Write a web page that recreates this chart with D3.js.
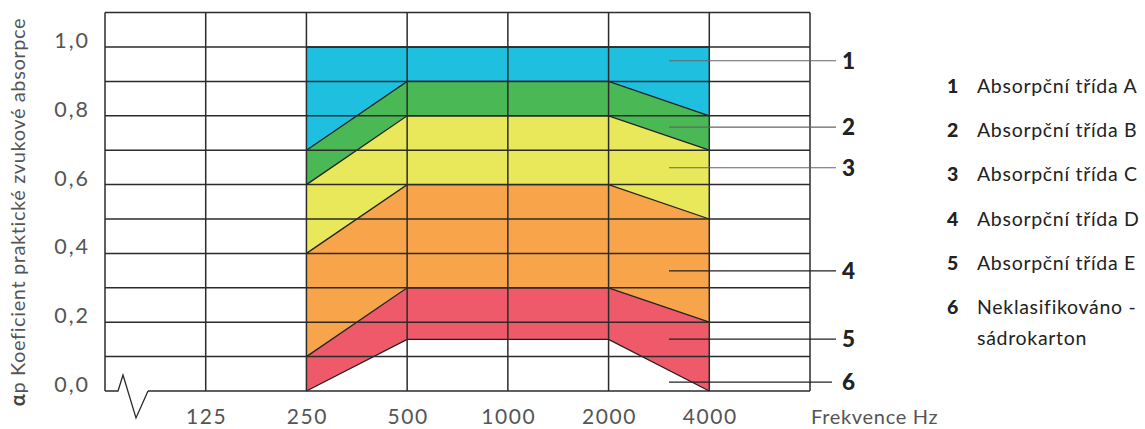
<!DOCTYPE html>
<html>
<head>
<meta charset="utf-8">
<script src="https://cdn.jsdelivr.net/npm/d3@7"></script>
<style>
  html, body { margin: 0; padding: 0; background: #fff; }
  svg { display: block; font-family: Lato, "Noto Sans", sans-serif; }
</style>
</head>
<body>
<svg id="chart" width="1145" height="429"></svg>
<script>
// ---- data ----
const gridCats = ["start", "125", "250", "500", "1000", "2000", "4000", "end"];
const tickLabels = ["125", "250", "500", "1000", "2000", "4000"];
const freqs = ["250", "500", "1000", "2000", "4000"];
const boundTop = [1.0, 1.0, 1.0, 1.0, 1.0];
const boundAB = [0.7, 0.9, 0.9, 0.9, 0.8];
const boundBC = [0.6, 0.8, 0.8, 0.8, 0.7];
const boundCD = [0.4, 0.6, 0.6, 0.6, 0.5];
const boundDE = [0.1, 0.3, 0.3, 0.3, 0.2];
const boundBottom = [0.0, 0.15, 0.15, 0.15, 0.0];
const yTicks = [0, 0.2, 0.4, 0.6, 0.8, 1.0];
const classNumbers = ["1", "2", "3", "4", "5", "6"];
const classNames = ["Absorpční třída A", "Absorpční třída B", "Absorpční třída C",
                    "Absorpční třída D", "Absorpční třída E", "Neklasifikováno -"];
const class6Line2 = "sádrokarton";
const leaderValues = [0.96, 0.767, 0.649, 0.349, 0.151, 0.026];
const colors = ["#1fbfe0", "#4bb856", "#e8e85a", "#f7a44a", "#ef5a6a"];
const xTitle = "Frekvence Hz";
const yTitle = "Koeficient praktické zvukové absorpce";

// ---- scales ----
const svg = d3.select("#chart");
const x = d3.scalePoint().domain(gridCats).range([105, 810]);
const y = d3.scaleLinear().domain([0, 1.1]).range([391, 12.6]);
const step = x.step();

// ---- areas ----
const bounds = [boundTop, boundAB, boundBC, boundCD, boundDE, boundBottom];
const areaGen = d3.area().x(d => x(d.f)).y0(d => y(d.lo)).y1(d => y(d.hi));
for (let i = 0; i < 5; i++) {
  const pts = freqs.map((f, j) => ({ f, hi: bounds[i][j], lo: bounds[i + 1][j] }));
  svg.append("path").attr("d", areaGen(pts)).attr("fill", colors[i]);
}
const lineGen = d3.line().x(d => x(d.f)).y(d => y(d.v));
bounds.forEach(b => {
  svg.append("path")
    .attr("d", lineGen(freqs.map((f, j) => ({ f, v: b[j] }))))
    .attr("fill", "none").attr("stroke", "#222").attr("stroke-width", 1.3);
});

// ---- grid ----
const grid = svg.append("g").attr("stroke", "#2b2b2b").attr("stroke-width", 1.5);
const hVals = d3.range(1, 12).map(i => i / 10);
hVals.forEach(v => {
  grid.append("line").attr("x1", x("start")).attr("x2", x("end"))
    .attr("y1", y(v)).attr("y2", y(v));
});
gridCats.forEach(c => {
  grid.append("line").attr("x1", x(c)).attr("x2", x(c))
    .attr("y1", y(1.1)).attr("y2", y(0));
});
// bottom line with axis break
const x0 = x("start"), yb = y(0);
grid.append("line").attr("x1", x0 + 43).attr("x2", x("end")).attr("y1", yb).attr("y2", yb);
grid.append("path")
  .attr("d", `M${x0},${yb}L${x0 + 13},${yb}L${x0 + 18},${yb - 16}L${x0 + 31},${yb + 27}L${x0 + 43},${yb}`)
  .attr("fill", "none").attr("stroke-width", 1.3);

// ---- y axis labels ----
svg.append("g").selectAll("text").data(yTicks).join("text")
  .attr("x", 90).attr("y", d => y(d) + 1)
  .attr("text-anchor", "end")
  .attr("font-size", 21.5).attr("letter-spacing", 2).attr("fill", "#555")
  .text(d => d3.format(".1f")(d).replace(".", ","));

// ---- x axis labels ----
svg.append("g").selectAll("text").data(tickLabels).join("text")
  .attr("x", d => x(d) + 1).attr("y", 423.5)
  .attr("text-anchor", "middle")
  .attr("font-size", 21).attr("letter-spacing", 1.6).attr("fill", "#555")
  .text(d => d);
svg.append("text").attr("x", x("end") + 1).attr("y", 423.5)
  .attr("font-size", 20).attr("letter-spacing", 0.7).attr("fill", "#555").text(xTitle);

// ---- y title ----
const yt = svg.append("text")
  .attr("transform", "translate(25,212) rotate(-90)")
  .attr("text-anchor", "middle")
  .attr("font-size", 20).attr("letter-spacing", 0.6).attr("fill", "#555");
yt.append("tspan").attr("font-weight", "bold").attr("fill", "#444").text("α");
yt.append("tspan").text("p " + yTitle);

// ---- leader lines and numbers ----
const lx0 = x("2000") + 0.6 * step;
const lx1 = x("end") + 26;
leaderValues.forEach((v, i) => {
  svg.append("line").attr("x1", lx0).attr("x2", i === 5 ? lx1 - 4 : lx1)
    .attr("y1", y(v)).attr("y2", y(v))
    .attr("stroke", i < 3 ? "#666" : "#222").attr("stroke-width", 1.2);
  svg.append("text").attr("x", lx1 + 6).attr("y", y(v) + 8)
    .attr("font-size", 22.5).attr("font-weight", "900").attr("fill", "#222")
    .text(classNumbers[i]);
});

// ---- legend ----
const leg = svg.append("g");
classNumbers.forEach((n, i) => {
  const cy = 86 + i * 44.2;
  leg.append("text").attr("x", 947).attr("y", cy + 7)
    .attr("font-size", 19.5).attr("font-weight", "900").attr("fill", "#222").text(n);
  leg.append("text").attr("x", 977).attr("y", cy + 7)
    .attr("font-size", 19.5).attr("letter-spacing", 0.7).attr("fill", "#222").text(classNames[i]);
});
leg.append("text").attr("x", 977).attr("y", 86 + 5 * 44.2 + 7 + 31)
  .attr("font-size", 19.5).attr("letter-spacing", 0.7).attr("fill", "#222").text(class6Line2);
</script>
</body>
</html>
